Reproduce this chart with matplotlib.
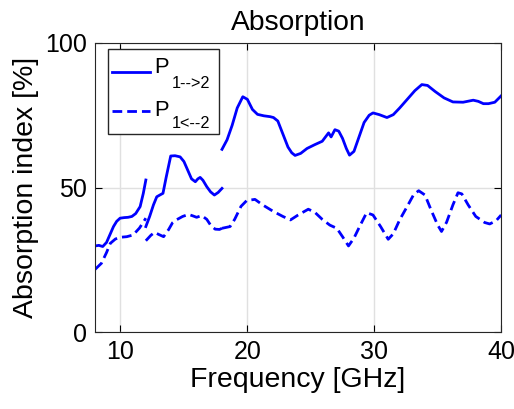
import numpy as np
import matplotlib.pyplot as plt
from matplotlib.patches import Rectangle

plt.rcParams['font.family'] = ['Liberation Sans', 'DejaVu Sans']

# P 1-->2 (solid), three measurement bands
f_a1 = [8.0, 8.3, 8.6, 8.9, 9.2, 9.45, 9.7, 9.97, 10.3, 10.6, 10.9, 11.2, 11.55, 11.8, 12.0]
p_a1 = [29.8, 30.0, 29.6, 31.0, 34.0, 36.5, 38.3, 39.4, 39.6, 39.7, 40.0, 41.0, 43.4, 48.0, 52.6]
f_a2 = [12.0, 12.3, 12.6, 12.86, 13.1, 13.35, 13.6, 13.96, 14.3, 14.7, 15.0, 15.3, 15.6, 15.9, 16.1, 16.28, 16.5, 16.8, 17.1, 17.4, 17.7, 18.0]
p_a2 = [36.5, 40.0, 44.0, 46.8, 47.4, 48.0, 53.5, 60.9, 61.0, 60.6, 59.0, 56.0, 53.0, 52.0, 53.0, 53.5, 52.5, 50.3, 48.5, 47.4, 48.3, 49.7]
f_a3 = [18.0, 18.4, 18.8, 19.2, 19.64, 20.0, 20.4, 20.8, 21.3, 21.8, 22.06, 22.4, 22.8, 23.2, 23.5, 23.76, 24.2, 24.7, 25.3, 25.9, 26.4, 26.6, 26.9,
        27.2, 27.5, 27.8, 28.05, 28.4, 28.8, 29.2, 29.6, 29.9, 30.4, 31.0, 31.5, 32.0, 32.6, 33.2, 33.75, 34.2, 34.8, 35.5, 36.2, 37.0, 37.8, 38.2,
        38.6, 39.0, 39.5, 40.0]
p_a3 = [63.2, 66.5, 71.5, 77.5, 81.4, 80.5, 77.0, 75.3, 74.8, 74.5, 74.2, 73.0, 68.5, 64.0, 62.0, 61.1, 61.8, 63.5, 64.8, 66.0, 68.9, 67.5, 70.0,
        69.5, 67.0, 63.5, 61.2, 62.5, 67.5, 72.5, 75.0, 75.8, 75.2, 74.2, 75.2, 77.5, 80.5, 83.5, 85.6, 85.3, 83.2, 81.0, 79.6, 79.5, 80.2, 79.8,
        79.0, 79.0, 79.5, 81.7]

# P 1<--2 (dashed)
f_b1 = [8.0, 8.5, 8.9, 9.2, 9.6, 10.0, 10.5, 11.0, 11.5, 12.0]
p_b1 = [21.7, 23.8, 27.5, 30.7, 32.2, 32.8, 33.0, 33.6, 36.0, 39.4]
f_b2 = [12.0, 12.4, 12.7, 13.0, 13.4, 13.8, 14.1, 14.4, 14.9, 15.36, 15.7, 16.0, 16.4, 16.8, 17.1, 17.46, 17.8, 18.0]
p_b2 = [31.6, 33.5, 34.5, 33.8, 33.0, 35.5, 37.8, 38.8, 40.0, 40.7, 40.2, 39.7, 40.3, 39.0, 37.0, 35.6, 35.5, 35.9]
f_b3 = [18.0, 18.64, 19.0, 19.5, 19.95, 20.6, 21.2, 22.06, 22.8, 23.4, 24.0, 24.8, 25.3, 25.9, 26.5, 27.05, 27.5, 27.97, 28.4, 28.9, 29.4,
        29.9, 30.5, 31.1, 31.5, 32.0, 32.6, 33.1, 33.5, 34.0, 34.5, 35.0, 35.3, 35.7, 36.2, 36.6, 36.9, 37.4, 38.0, 38.7, 39.1, 39.6, 40.0]
p_b3 = [35.9, 36.5, 39.0, 43.5, 45.5, 45.9, 44.0, 41.7, 40.0, 38.8, 40.5, 42.5, 41.5, 39.0, 37.0, 35.9, 33.0, 29.8, 32.5, 37.0, 41.3,
        40.5, 36.5, 32.1, 34.0, 38.8, 43.5, 47.5, 48.9, 47.4, 42.0, 37.0, 34.8, 38.0, 44.0, 48.2, 47.8, 44.0, 40.0, 37.9, 37.4, 38.5, 40.5]

leg_main = ['P', 'P']
leg_sub = ['1-->2', '1<--2']

fig = plt.figure(figsize=(5.14, 4.09), dpi=100)
ax = fig.add_axes([0.185, 0.188, 0.79, 0.707])

blue = (0, 0, 1)
dash = (0, (3.5, 1.8))
for f, p in [(f_a1, p_a1), (f_a2, p_a2), (f_a3, p_a3)]:
    ax.plot(f, p, color=blue, lw=2)
for f, p in [(f_b1, p_b1), (f_b2, p_b2), (f_b3, p_b3)]:
    ax.plot(f, p, color=blue, lw=2, ls=dash)

ax.set_xlim(8, 40)
ax.set_ylim(0, 100)
ax.set_xticks([10, 20, 30, 40])
ax.set_yticks([0, 50, 100])
ax.grid(True, color='#e0e0e0', lw=1)
ax.tick_params(direction='in', top=True, right=True, labelsize=18, length=5, pad=6)
for s in ax.spines.values():
    s.set_color('#262626')
ax.set_xlabel('Frequency [GHz]', fontsize=20.5, labelpad=2)
ax.set_ylabel('Absorption index [%]', fontsize=20.5, labelpad=4)
ax.set_title('Absorption', fontsize=20.3, pad=9)

# legend drawn by hand (MATLAB style low subscripts)
ax.add_patch(Rectangle((0.032, 0.685), 0.273, 0.294, transform=ax.transAxes,
                       facecolor='white', edgecolor='#262626', lw=1, zorder=5))
styles = ['-', dash]
y_line = [0.901, 0.765]
y_main = [0.897, 0.747]
y_sub = [0.843, 0.706]
for i in range(2):
    ax.plot([0.042, 0.135], [y_line[i], y_line[i]], transform=ax.transAxes,
            color=blue, lw=2, ls=styles[i], zorder=6)
    ax.text(0.145, y_main[i], leg_main[i], transform=ax.transAxes, fontsize=15.8,
            va='baseline', ha='left', zorder=6)
    ax.text(0.189, y_sub[i], leg_sub[i], transform=ax.transAxes, fontsize=11.7,
            va='baseline', ha='left', zorder=6)

fig.savefig('out.png', dpi=100)
